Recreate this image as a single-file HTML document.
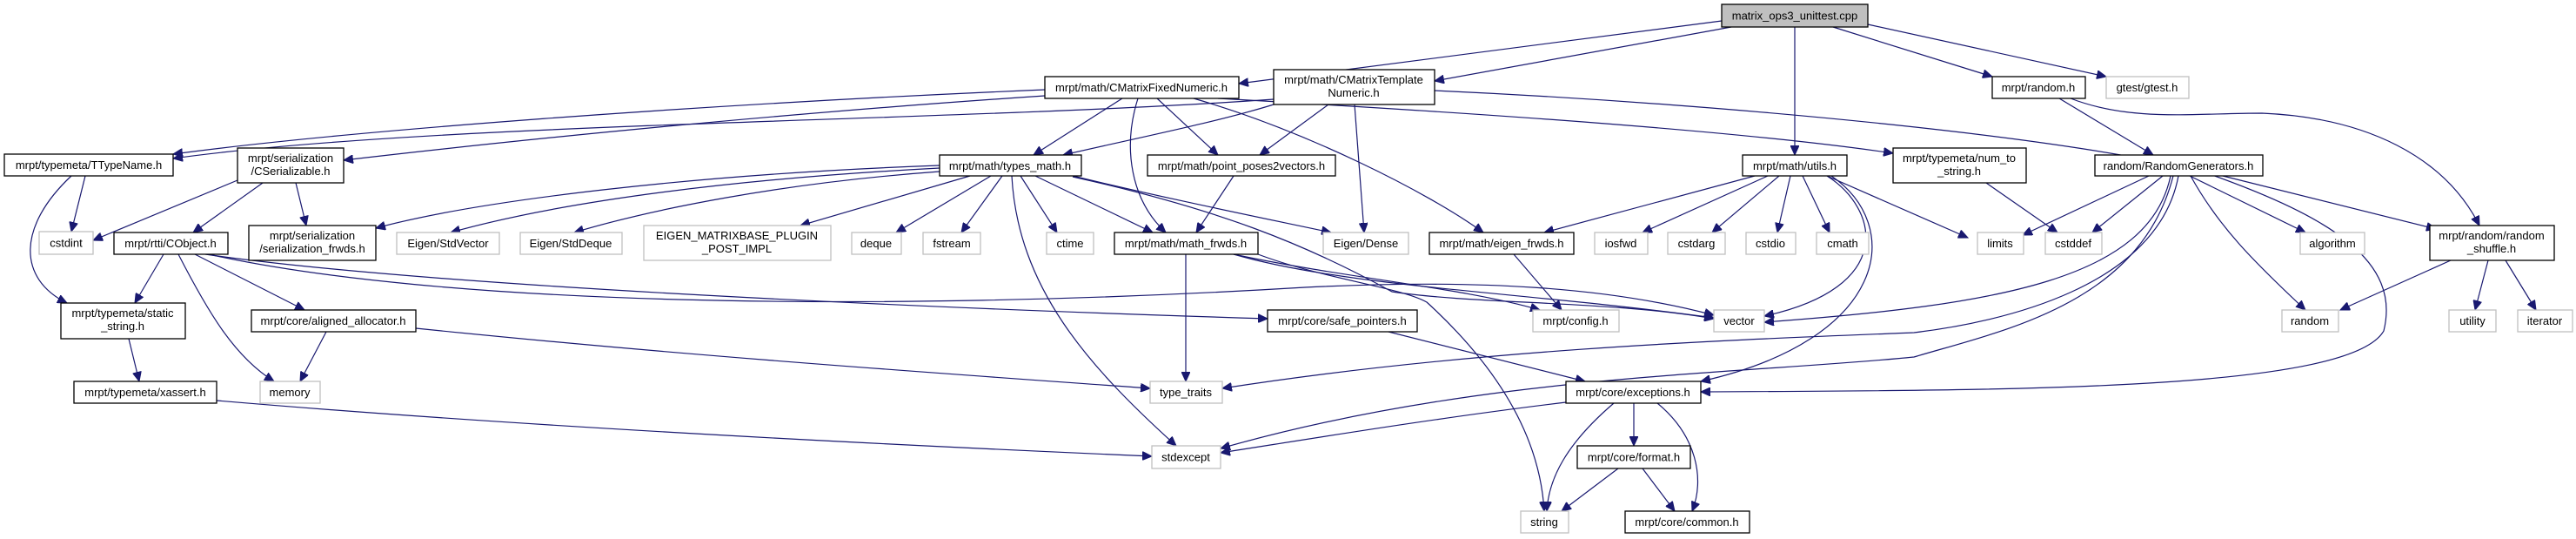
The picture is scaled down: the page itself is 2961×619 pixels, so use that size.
<!DOCTYPE html>
<html><head><meta charset="utf-8"><style>
html,body{margin:0;padding:0;background:#fff;}
svg{display:block;}
text{font-family:"Liberation Sans",sans-serif;font-size:13px;fill:#000;text-anchor:middle;}
.b{fill:#fff;stroke:#000;stroke-width:1.3;}
.g{fill:#fff;stroke:#bfbfbf;stroke-width:1.3;}
.r{fill:#bfbfbf;stroke:#000;stroke-width:1.3;}
path{fill:none;stroke:#191970;stroke-width:1.2;}
</style></head><body>
<svg width="2961" height="619" viewBox="0 0 2961 619" xmlns="http://www.w3.org/2000/svg">
<defs><marker id="a" markerUnits="userSpaceOnUse" markerWidth="12" markerHeight="10" refX="11" refY="5" orient="auto"><polygon points="0,0 11,5 0,10" fill="#191970" stroke="#191970"/></marker></defs>
<g marker-end="url(#a)">
<!-- root -->
<path d="M1979,24 L1424,96"/>
<path d="M1990,31 L1649,93"/>
<path d="M2063,31 L2063,178"/>
<path d="M2107,31 L2290,88"/>
<path d="M2147,28 L2421,88"/>
<!-- CMFN -->
<path d="M1201,103 C800,120 400,150 199,177"/>
<path d="M1201,110 C900,130 600,160 395,184"/>
<path d="M1290,113 L1188,178"/>
<path d="M1308,113 C1290,170 1300,230 1340,267"/>
<path d="M1330,113 L1400,178"/>
<path d="M1372,113 C1500,150 1640,220 1705,267"/>
<path d="M1400,113 C1700,130 2000,150 2176,176"/>
<!-- CMTN -->
<path d="M1464,114 C1100,140 500,140 199,182"/>
<path d="M1464,120 C1400,140 1300,160 1222,178"/>
<path d="M1527,120 L1448,178"/>
<path d="M1557,120 L1568,267"/>
<path d="M1649,104 C2000,120 2400,160 2540,200 C2680,250 2760,300 2740,380 C2700,450 2300,448 1955,450"/>
<!-- types_math -->
<path d="M1080,190 C800,200 550,230 432,262"/>
<path d="M1080,193 C850,205 650,230 518,267"/>
<path d="M1080,197 C900,210 750,240 660,267"/>
<path d="M1115,202 L920,259"/>
<path d="M1139,202 L1030,267"/>
<path d="M1152,202 L1105,267"/>
<path d="M1173,202 L1215,267"/>
<path d="M1190,202 L1325,267"/>
<path d="M1163,202 C1170,330 1250,420 1352,512"/>
<path d="M1233,202 C1350,230 1450,250 1530,267"/>
<path d="M1233,203 C1400,240 1500,280 1600,335 C1700,350 1850,345 1970,366"/>
<!-- pp2v, math_frwds -->
<path d="M1418,202 L1375,267"/>
<path d="M1363,292 L1363,438"/>
<path d="M1418,292 C1550,320 1680,330 1770,356"/>
<path d="M1418,292 C1550,330 1750,335 1970,365"/>
<path d="M1446,292 C1520,320 1610,330 1640,347 C1720,420 1770,500 1775,587"/>
<!-- eigen_frwds -->
<path d="M1740,292 L1795,356"/>
<!-- utils -->
<path d="M2017,202 L1775,267"/>
<path d="M2032,202 L1888,267"/>
<path d="M2045,202 L1968,267"/>
<path d="M2058,202 L2043,267"/>
<path d="M2072,202 L2103,267"/>
<path d="M2100,202 L2262,273"/>
<path d="M2100,202 C2160,240 2180,330 2028,363"/>
<path d="M2105,202 C2190,260 2170,390 1955,438"/>
<!-- CSer -->
<path d="M273,207 L107,276"/>
<path d="M302,210 L222,267"/>
<path d="M340,210 L352,259"/>
<!-- TTN -->
<path d="M98,202 L82,266"/>
<path d="M82,202 C20,260 20,320 77,348"/>
<!-- CObj -->
<path d="M188,292 L155,348"/>
<path d="M205,292 C240,360 270,410 315,438"/>
<path d="M224,292 L350,356"/>
<path d="M236,292 C500,330 1100,355 1457,366"/>
<path d="M240,292 C500,350 1000,360 1500,330 C1700,320 1850,330 1970,362"/>
<!-- static_string, xassert, aligned -->
<path d="M148,389 L160,438"/>
<path d="M249,460 C600,490 1000,510 1324,524"/>
<path d="M375,381 L345,438"/>
<path d="M478,377 C800,410 1100,430 1322,446"/>
<!-- safe, exceptions, format -->
<path d="M1596,381 L1822,438"/>
<path d="M1800,462 C1650,480 1500,505 1403,520"/>
<path d="M1878,463 L1878,512"/>
<path d="M1855,463 C1800,510 1780,550 1778,587"/>
<path d="M1905,463 C1950,500 1960,550 1945,587"/>
<path d="M1860,538 L1795,587"/>
<path d="M1888,538 L1925,587"/>
<!-- random.h -->
<path d="M2367,113 L2475,178"/>
<path d="M2380,113 C2450,140 2520,130 2600,130 C2720,135 2810,180 2850,259"/>
<!-- n2s -->
<path d="M2283,210 L2365,267"/>
<!-- RG -->
<path d="M2470,202 L2325,270"/>
<path d="M2486,202 L2405,267"/>
<path d="M2517,202 L2650,267"/>
<path d="M2555,202 L2800,263"/>
<path d="M2518,202 C2550,260 2590,300 2650,356"/>
<path d="M2495,202 C2470,320 2300,350 2028,370"/>
<path d="M2504,202 C2480,330 2300,370 2200,382 C2000,390 1700,400 1405,446"/>
<path d="M2498,202 C2460,350 2300,380 2200,410 C2000,430 1700,430 1403,515"/>
<!-- rshuf -->
<path d="M2817,299 L2690,356"/>
<path d="M2860,299 L2845,356"/>
<path d="M2880,299 L2915,356"/>
</g>
<!-- nodes -->
<rect class="r" x="1979" y="5" width="168" height="26"/><text x="2063" y="22.5">matrix_ops3_unittest.cpp</text>
<rect class="b" x="1201" y="88" width="223" height="25"/><text x="1312" y="105">mrpt/math/CMatrixFixedNumeric.h</text>
<rect class="b" x="1464" y="80" width="185" height="40"/><text x="1556" y="96">mrpt/math/CMatrixTemplate</text><text x="1556" y="111">Numeric.h</text>
<rect class="b" x="5" y="177" width="194" height="25"/><text x="102" y="194">mrpt/typemeta/TTypeName.h</text>
<rect class="b" x="273" y="170" width="122" height="40"/><text x="334" y="186">mrpt/serialization</text><text x="334" y="201">/CSerializable.h</text>
<rect class="g" x="45" y="266" width="62" height="26"/><text x="76" y="283.5">cstdint</text>
<rect class="b" x="131" y="267" width="131" height="25"/><text x="196" y="284">mrpt/rtti/CObject.h</text>
<rect class="b" x="286" y="259" width="146" height="40"/><text x="359" y="275">mrpt/serialization</text><text x="359" y="290">/serialization_frwds.h</text>
<rect class="g" x="456" y="267" width="118" height="25"/><text x="515" y="284">Eigen/StdVector</text>
<rect class="g" x="598" y="267" width="117" height="25"/><text x="656" y="284">Eigen/StdDeque</text>
<rect class="b" x="70" y="348" width="143" height="41"/><text x="141" y="364">mrpt/typemeta/static</text><text x="141" y="379">_string.h</text>
<rect class="b" x="85" y="438" width="164" height="25"/><text x="167" y="455">mrpt/typemeta/xassert.h</text>
<rect class="g" x="299" y="438" width="69" height="25"/><text x="333" y="455">memory</text>
<rect class="b" x="289" y="356" width="189" height="25"/><text x="383" y="373">mrpt/core/aligned_allocator.h</text>
<rect class="b" x="1080" y="178" width="163" height="24"/><text x="1161" y="195">mrpt/math/types_math.h</text>
<rect class="b" x="1319" y="178" width="216" height="24"/><text x="1427" y="195">mrpt/math/point_poses2vectors.h</text>
<rect class="g" x="740" y="259" width="215" height="40"/><text x="847" y="275">EIGEN_MATRIXBASE_PLUGIN</text><text x="847" y="290">_POST_IMPL</text>
<rect class="g" x="979" y="267" width="57" height="25"/><text x="1007" y="284">deque</text>
<rect class="g" x="1061" y="267" width="66" height="25"/><text x="1094" y="284">fstream</text>
<rect class="g" x="1203" y="267" width="54" height="25"/><text x="1230" y="284">ctime</text>
<rect class="b" x="1281" y="267" width="165" height="25"/><text x="1363" y="284">mrpt/math/math_frwds.h</text>
<rect class="g" x="1322" y="438" width="83" height="25"/><text x="1363" y="455">type_traits</text>
<rect class="g" x="1324" y="512" width="79" height="26"/><text x="1363" y="529.5">stdexcept</text>
<rect class="b" x="2003" y="178" width="120" height="24"/><text x="2063" y="195">mrpt/math/utils.h</text>
<rect class="g" x="1521" y="267" width="98" height="25"/><text x="1570" y="284">Eigen/Dense</text>
<rect class="b" x="1643" y="267" width="166" height="25"/><text x="1726" y="284">mrpt/math/eigen_frwds.h</text>
<rect class="g" x="1833" y="267" width="61" height="25"/><text x="1863" y="284">iosfwd</text>
<rect class="g" x="1917" y="267" width="66" height="25"/><text x="1950" y="284">cstdarg</text>
<rect class="g" x="2007" y="267" width="57" height="25"/><text x="2035" y="284">cstdio</text>
<rect class="g" x="2088" y="267" width="60" height="25"/><text x="2118" y="284">cmath</text>
<rect class="b" x="1457" y="356" width="172" height="25"/><text x="1543" y="373">mrpt/core/safe_pointers.h</text>
<rect class="g" x="1762" y="356" width="99" height="25"/><text x="1811" y="373">mrpt/config.h</text>
<rect class="g" x="1970" y="356" width="58" height="25"/><text x="1999" y="373">vector</text>
<rect class="b" x="1800" y="438" width="155" height="25"/><text x="1877" y="455">mrpt/core/exceptions.h</text>
<rect class="b" x="1813" y="512" width="130" height="26"/><text x="1878" y="529.5">mrpt/core/format.h</text>
<rect class="g" x="1748" y="587" width="55" height="25"/><text x="1775" y="604">string</text>
<rect class="b" x="1868" y="587" width="143" height="25"/><text x="1939" y="604">mrpt/core/common.h</text>
<rect class="b" x="2290" y="88" width="107" height="25"/><text x="2343" y="105">mrpt/random.h</text>
<rect class="g" x="2421" y="88" width="95" height="25"/><text x="2468" y="105">gtest/gtest.h</text>
<rect class="b" x="2176" y="170" width="153" height="40"/><text x="2252" y="186">mrpt/typemeta/num_to</text><text x="2252" y="201">_string.h</text>
<rect class="b" x="2408" y="178" width="193" height="24"/><text x="2504" y="195">random/RandomGenerators.h</text>
<rect class="g" x="2273" y="267" width="53" height="25"/><text x="2299" y="284">limits</text>
<rect class="g" x="2351" y="267" width="65" height="25"/><text x="2383" y="284">cstddef</text>
<rect class="g" x="2644" y="267" width="74" height="25"/><text x="2681" y="284">algorithm</text>
<rect class="b" x="2793" y="259" width="143" height="40"/><text x="2864" y="275">mrpt/random/random</text><text x="2864" y="290">_shuffle.h</text>
<rect class="g" x="2623" y="356" width="65" height="25"/><text x="2655" y="373">random</text>
<rect class="g" x="2815" y="356" width="54" height="25"/><text x="2842" y="373">utility</text>
<rect class="g" x="2894" y="356" width="63" height="25"/><text x="2925" y="373">iterator</text>
</svg>
</body></html>
